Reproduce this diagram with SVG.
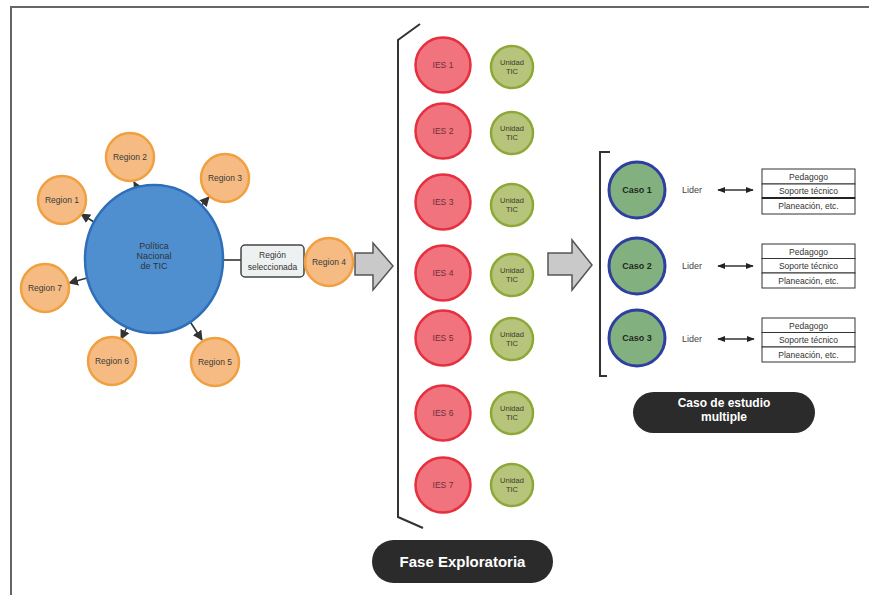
<svg xmlns="http://www.w3.org/2000/svg" width="869" height="595" viewBox="0 0 869 595">
<style>
text{font-family:"Liberation Sans",Arial,sans-serif;text-anchor:middle;fill:#333}
.reg circle{fill:#f6bb82;stroke:#f0a040;stroke-width:2.5}
.reg text{font-size:8.5px;fill:#3a3a3a}
.ies circle{fill:#f0737e;stroke:#e5303f;stroke-width:2.5}
.ies text{font-size:8.5px;fill:#6a3038}
.ut circle{fill:#b7c47c;stroke:#8ea838;stroke-width:2.5}
.ut text{font-size:7.5px;fill:#3a3a2a}
.caso circle{fill:#82b07e;stroke:#2f3fa0;stroke-width:3}
.caso text{font-size:9px;font-weight:bold;fill:#1f2a1f}
.lider{font-size:9px;fill:#444}
.tbl rect{fill:#fff;stroke:#333;stroke-width:1}
.tbl text{font-size:8.5px;fill:#333}
.pill rect{fill:#2b2b2b}
.pill text{fill:#fff;font-weight:bold}
.conn{stroke:#333;stroke-width:1.6;fill:none}
.big{fill:#c9c9c9;stroke:#555;stroke-width:1.5}
.brk{stroke:#333;stroke-width:2;fill:none}
</style>
<defs>
<marker id="ah" viewBox="0 0 10 10" refX="9" refY="5" markerWidth="10" markerHeight="10" markerUnits="userSpaceOnUse" orient="auto"><path d="M0,0 L10,5 L0,10 Z" fill="#333"/></marker>
<marker id="dh" viewBox="0 0 10 10" refX="9" refY="5" markerWidth="8" markerHeight="8" markerUnits="userSpaceOnUse" orient="auto-start-reverse"><path d="M0,1 L10,5 L0,9 Z" fill="#222"/></marker>
</defs>
<rect x="0" y="0" width="869" height="595" fill="#fff"/>
<path d="M11,595 L11,7 L869,7" fill="none" stroke="#666" stroke-width="2"/>

<g id="connectors">
<line class="conn" x1="138" y1="189" x2="134" y2="182" marker-end="url(#ah)"/>
<line class="conn" x1="94" y1="222" x2="81" y2="214" marker-end="url(#ah)"/>
<line class="conn" x1="200" y1="207" x2="209" y2="197" marker-end="url(#ah)"/>
<line class="conn" x1="87" y1="278" x2="69" y2="283" marker-end="url(#ah)"/>
<line class="conn" x1="127" y1="327" x2="121" y2="339" marker-end="url(#ah)"/>
<line class="conn" x1="189" y1="320" x2="202" y2="340" marker-end="url(#ah)"/>
<line class="conn" x1="223" y1="260" x2="241" y2="260"/>
<line class="conn" x1="718" y1="190" x2="753" y2="190" marker-start="url(#dh)" marker-end="url(#dh)"/>
<line class="conn" x1="718" y1="266" x2="753" y2="266" marker-start="url(#dh)" marker-end="url(#dh)"/>
<line class="conn" x1="718" y1="339" x2="754" y2="339" marker-start="url(#dh)" marker-end="url(#dh)"/>
<path class="big" d="M355,253 L373,253 L373,243 L393,266 L373,290 L373,275 L355,275 Z"/>
<path class="big" d="M548,253 L572,253 L572,240 L592,265 L572,290 L572,275 L548,275 Z"/>
<path class="brk" d="M420,24 L398,40 L398,517 L423,528"/>
<path class="brk" d="M610,152 L600,152 L600,376 L607,376"/>
</g>

<g id="politica">
<ellipse cx="154" cy="259" rx="69" ry="74" fill="#4f8fd0" stroke="#2f6fb8" stroke-width="2.5"/>
<text x="154" y="249" font-size="9" fill="#1d3450">Política</text>
<text x="154" y="259" font-size="9" fill="#1d3450">Nacional</text>
<text x="154" y="269" font-size="9" fill="#1d3450">de TIC</text>
</g>

<g id="region1" class="reg"><circle cx="62" cy="200" r="24"/><text x="62" y="203">Region 1</text></g>
<g id="region2" class="reg"><circle cx="130" cy="157" r="24"/><text x="130" y="160">Region 2</text></g>
<g id="region3" class="reg"><circle cx="225" cy="178" r="24"/><text x="225" y="181">Region 3</text></g>
<g id="region7" class="reg"><circle cx="45" cy="288" r="24"/><text x="45" y="291">Region 7</text></g>
<g id="region6" class="reg"><circle cx="112" cy="361" r="24"/><text x="112" y="364">Region 6</text></g>
<g id="region5" class="reg"><circle cx="215" cy="362" r="24"/><text x="215" y="365">Region 5</text></g>

<g id="seleccionada">
<rect x="241" y="245" width="63" height="32" rx="4" fill="#eef1f1" stroke="#444" stroke-width="1.5"/>
<text x="272.5" y="258" font-size="8.5">Región</text>
<text x="272.5" y="270" font-size="8.5">seleccionada</text>
</g>
<g id="region4" class="reg"><circle cx="329" cy="262" r="24"/><text x="329" y="265">Region 4</text></g>

<g id="ies1" class="ies"><circle cx="443" cy="65" r="27.5"/><text x="443" y="68">IES 1</text></g>
<g id="ies2" class="ies"><circle cx="443" cy="131" r="27.5"/><text x="443" y="134">IES 2</text></g>
<g id="ies3" class="ies"><circle cx="443" cy="202" r="27.5"/><text x="443" y="205">IES 3</text></g>
<g id="ies4" class="ies"><circle cx="443" cy="273" r="27.5"/><text x="443" y="276">IES 4</text></g>
<g id="ies5" class="ies"><circle cx="443" cy="338" r="27.5"/><text x="443" y="341">IES 5</text></g>
<g id="ies6" class="ies"><circle cx="443" cy="413" r="27.5"/><text x="443" y="416">IES 6</text></g>
<g id="ies7" class="ies"><circle cx="443" cy="485" r="27.5"/><text x="443" y="488">IES 7</text></g>

<g id="ut1" class="ut"><circle cx="512" cy="67" r="21"/><text x="512" y="65">Unidad</text><text x="512" y="74">TIC</text></g>
<g id="ut2" class="ut"><circle cx="512" cy="133" r="21"/><text x="512" y="131">Unidad</text><text x="512" y="140">TIC</text></g>
<g id="ut3" class="ut"><circle cx="512" cy="205" r="21"/><text x="512" y="203">Unidad</text><text x="512" y="212">TIC</text></g>
<g id="ut4" class="ut"><circle cx="512" cy="275" r="21"/><text x="512" y="273">Unidad</text><text x="512" y="282">TIC</text></g>
<g id="ut5" class="ut"><circle cx="512" cy="339" r="21"/><text x="512" y="337">Unidad</text><text x="512" y="346">TIC</text></g>
<g id="ut6" class="ut"><circle cx="512" cy="413" r="21"/><text x="512" y="411">Unidad</text><text x="512" y="420">TIC</text></g>
<g id="ut7" class="ut"><circle cx="512" cy="485" r="21"/><text x="512" y="483">Unidad</text><text x="512" y="492">TIC</text></g>

<g id="fase" class="pill"><rect x="372" y="540" width="181" height="43" rx="21.5"/><text x="462.5" y="567" font-size="15">Fase Exploratoria</text></g>

<g id="caso1" class="caso"><circle cx="637" cy="190" r="28"/><text x="637" y="193">Caso 1</text></g>
<g id="caso2" class="caso"><circle cx="637" cy="266" r="28"/><text x="637" y="269">Caso 2</text></g>
<g id="caso3" class="caso"><circle cx="637" cy="338" r="28"/><text x="637" y="341">Caso 3</text></g>

<g id="lider1"><text class="lider" x="692" y="193">Lider</text></g>
<g id="lider2"><text class="lider" x="692" y="269">Lider</text></g>
<g id="lider3"><text class="lider" x="692" y="342">Lider</text></g>

<g id="tabla1" class="tbl">
<rect x="762" y="169" width="93" height="15"/><rect x="762" y="184" width="93" height="14"/><rect x="762" y="198" width="93" height="16"/>
<line x1="762" y1="198" x2="855" y2="198" stroke="#222" stroke-width="2"/>
<text x="808.5" y="179.5">Pedagogo</text><text x="808.5" y="194">Soporte técnico</text><text x="808.5" y="209">Planeación, etc.</text>
</g>
<g id="tabla2" class="tbl">
<rect x="762" y="244" width="93" height="14.5"/><rect x="762" y="258.5" width="93" height="14.5"/><rect x="762" y="273" width="93" height="15"/>
<text x="808.5" y="254.5">Pedagogo</text><text x="808.5" y="269">Soporte técnico</text><text x="808.5" y="283.5">Planeación, etc.</text>
</g>
<g id="tabla3" class="tbl">
<rect x="762" y="318" width="93" height="14.5"/><rect x="762" y="332.5" width="93" height="14.5"/><rect x="762" y="347" width="93" height="15"/>
<text x="808.5" y="328.5">Pedagogo</text><text x="808.5" y="343">Soporte técnico</text><text x="808.5" y="357.5">Planeación, etc.</text>
</g>

<g id="caso_estudio" class="pill"><rect x="633" y="392" width="182" height="41" rx="20.5"/><text x="724" y="407" font-size="12">Caso de estudio</text><text x="724" y="421" font-size="12">multiple</text></g>
</svg>
